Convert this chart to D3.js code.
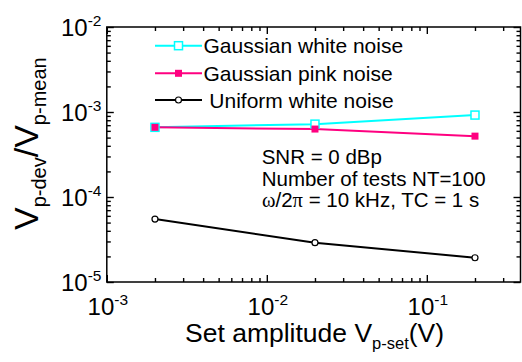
<!DOCTYPE html>
<html>
<head>
<meta charset="utf-8">
<script src="https://cdn.jsdelivr.net/npm/d3@7"></script>
<style>
  html, body { margin: 0; padding: 0; background: #fff; }
  svg { display: block; font-family: Arial, "Liberation Sans", sans-serif; }
  .sym { font-family: "Times New Roman", "Liberation Serif", serif; }
</style>
</head>
<body>
<svg id="chart" width="522" height="362"></svg>
<script>
// Set amplitude of the test signal (V)
const amplitudes = [0.002, 0.02, 0.2];
// Relative deviation V_p-dev / V_p-mean for each noise type
const gaussianWhite = [6.6e-4, 7.2e-4, 9.2e-4];
const gaussianPink = [6.6e-4, 6.3e-4, 5.2e-4];
const uniformWhite = [5.5e-5, 2.9e-5, 1.93e-5];

const seriesNames = ["Gaussian white noise", "Gaussian pink noise", " Uniform white noise"];
const xTickExponents = [-3, -2, -1];
const yTickExponents = [-5, -4, -3, -2];
const notes = ["SNR = 0 dBp", "Number of tests NT=100"];

const svg = d3.select("#chart");
const plotLeft = 106.8, plotRight = 520.5, plotTop = 27, plotBottom = 282;

const x = d3.scaleLog().domain([1e-3, 0.385]).range([plotLeft, plotRight]);
const y = d3.scaleLog().domain([1e-5, 1e-2]).range([plotBottom, plotTop]);

// minor tick positions between decades
function minors(scale) {
  const [a, b] = scale.domain();
  const out = [];
  for (let e = Math.floor(Math.log10(a)); e <= Math.ceil(Math.log10(b)); e++) {
    for (let m = 2; m <= 9; m++) {
      const v = m * Math.pow(10, e);
      if (v > a * 1.0001 && v < b) out.push(v);
    }
  }
  return out;
}
const xMajor = xTickExponents.map(e => Math.pow(10, e));
const yMajor = yTickExponents.map(e => Math.pow(10, e));

function styleAxis(g) {
  g.select(".domain").remove();
  g.selectAll(".tick line").attr("stroke", "#000").attr("stroke-width", 1.4);
}

// inward-pointing ticks on all four sides
const axes = svg.append("g");
function addAxis(axisFn, scale, pos, values, size) {
  const isX = axisFn === d3.axisBottom || axisFn === d3.axisTop;
  axes.append("g")
    .attr("transform", isX ? `translate(0,${pos})` : `translate(${pos},0)`)
    .call(axisFn(scale).tickValues(values).tickSize(-size).tickFormat(""))
    .call(styleAxis);
}
addAxis(d3.axisBottom, x, plotBottom, minors(x), 4);
addAxis(d3.axisBottom, x, plotBottom, xMajor, 7);
addAxis(d3.axisTop, x, plotTop, minors(x), 4);
addAxis(d3.axisTop, x, plotTop, xMajor, 7);
addAxis(d3.axisLeft, y, plotLeft, minors(y), 4);
addAxis(d3.axisLeft, y, plotLeft, yMajor, 7);
addAxis(d3.axisRight, y, plotRight, minors(y), 4);
addAxis(d3.axisRight, y, plotRight, yMajor, 7);

svg.append("rect")
  .attr("x", plotLeft).attr("y", plotTop)
  .attr("width", plotRight - plotLeft).attr("height", plotBottom - plotTop)
  .attr("fill", "none").attr("stroke", "#000").attr("stroke-width", 1.5);

// power-of-ten tick labels
function powerLabel(sel, exp) {
  sel.append("tspan").text("10");
  sel.append("tspan").attr("font-size", 15.5).attr("dy", -10).text(String(exp));
}
const xLabels = svg.append("g").attr("font-size", 24).attr("fill", "#000");
xTickExponents.forEach(e => {
  const t = xLabels.append("text").attr("x", x(Math.pow(10, e)) + 1).attr("y", 315)
    .attr("text-anchor", "middle");
  powerLabel(t, e);
});
const yLabels = svg.append("g").attr("font-size", 24).attr("fill", "#000");
yTickExponents.forEach(e => {
  const t = yLabels.append("text").attr("x", 101.5).attr("y", y(Math.pow(10, e)) + 8.5)
    .attr("text-anchor", "end");
  powerLabel(t, e);
});

// axis titles
const xt = svg.append("text").attr("x", 185).attr("y", 342).attr("font-size", 26.5);
xt.append("tspan").text("Set amplitude V");
xt.append("tspan").attr("font-size", 16.5).attr("dy", 7).text("p-set");
xt.append("tspan").attr("dy", -7).text("(V)");

const yt = svg.append("text").attr("transform", "translate(38,230) rotate(-90)").attr("font-size", 34);
yt.append("tspan").text("V");
yt.append("tspan").attr("font-size", 20).attr("dy", 8).text("p-dev");
yt.append("tspan").attr("dy", -8).text("/V");
yt.append("tspan").attr("font-size", 20).attr("dy", 8).text("p-mean");

// series
const series = [
  { values: gaussianWhite, color: "#00FFFF", marker: "openSquare" },
  { values: gaussianPink, color: "#FF0080", marker: "filledSquare" },
  { values: uniformWhite, color: "#000000", marker: "openCircle" }
];
const line = d3.line().x(d => x(d[0])).y(d => y(d[1]));

function drawMarker(g, cx, cy, s) {
  if (s.marker === "openSquare") {
    g.append("rect").attr("x", cx - 4).attr("y", cy - 4).attr("width", 8).attr("height", 8)
      .attr("fill", "#fff").attr("stroke", s.color).attr("stroke-width", 1.5);
  } else if (s.marker === "filledSquare") {
    g.append("rect").attr("x", cx - 3.5).attr("y", cy - 3.5).attr("width", 7).attr("height", 7)
      .attr("fill", s.color);
  } else {
    g.append("circle").attr("cx", cx).attr("cy", cy).attr("r", 3)
      .attr("fill", "#fff").attr("stroke", s.color).attr("stroke-width", 1.2);
  }
}

const plot = svg.append("g");
series.forEach(s => {
  const pts = amplitudes.map((a, i) => [a, s.values[i]]);
  plot.append("path").datum(pts).attr("d", line)
    .attr("fill", "none").attr("stroke", s.color).attr("stroke-width", 2);
});
series.forEach(s => {
  const g = plot.append("g");
  amplitudes.forEach((a, i) => drawMarker(g, x(a), y(s.values[i]), s));
});

// legend
const legend = svg.append("g").attr("font-size", 21);
const legendRows = [45.7, 73.3, 100];
series.forEach((s, i) => {
  const ly = legendRows[i];
  legend.append("line").attr("x1", 155).attr("x2", 202).attr("y1", ly).attr("y2", ly)
    .attr("stroke", s.color).attr("stroke-width", 2);
  drawMarker(legend.append("g"), 178.5, ly, s);
  legend.append("text").attr("x", 203.5).attr("y", ly + 7.5)
    .style("white-space", "pre").text(seriesNames[i]);
});

// measurement conditions
const note = svg.append("g").attr("font-size", 20.5);
notes.forEach((n, i) => {
  note.append("text").attr("x", 261.7).attr("y", 164 + i * 21.5).text(n);
});
const n3 = note.append("text").attr("x", 262).attr("y", 207);
n3.append("tspan").attr("class", "sym").text("\u03c9");
n3.append("tspan").text("/2");
n3.append("tspan").attr("class", "sym").text("\u03c0");
n3.append("tspan").text(" = 10 kHz, TC = 1 s");
</script>
</body>
</html>
